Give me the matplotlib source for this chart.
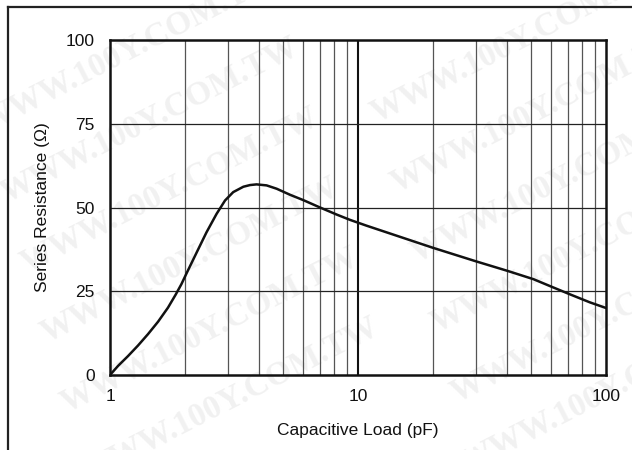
import matplotlib
matplotlib.use("Agg")
import matplotlib.pyplot as plt
from matplotlib.lines import Line2D
from matplotlib.ticker import NullLocator

# Data
cap_load = [1.0, 1.077, 1.182, 1.297, 1.423, 1.562, 1.713, 1.84, 1.94, 2.04,
            2.24, 2.45, 2.69, 2.91, 3.14, 3.45, 3.67, 3.90, 4.28, 4.70,
            5.32, 6.02, 7.03, 8.2, 9.29, 10.8, 20.0, 30.0, 40.0, 51.0,
            61.0, 72.0, 86.0, 100.0]
series_res = [0.0, 2.7, 5.65, 8.8, 12.2, 15.9, 20.1, 24.0, 27.1, 30.5,
              36.7, 42.6, 48.1, 52.1, 54.6, 56.2, 56.7, 56.9, 56.6, 55.6,
              53.8, 52.2, 50.0, 47.9, 46.3, 44.6, 38.0, 33.9, 31.1, 28.6,
              26.2, 24.0, 21.7, 20.0]
x_ticks = [1, 10, 100]
x_tick_labels = ["1", "10", "100"]
y_ticks = [0, 25, 50, 75, 100]
y_tick_labels = ["0", "25", "50", "75", "100"]
watermark = "WWW.100Y.COM.TW"

plt.rcParams['font.family'] = ['Liberation Sans', 'DejaVu Sans']

W, H = 632, 450
fig = plt.figure(figsize=(W / 100, H / 100), dpi=100)
fig.patch.set_facecolor("white")

# watermarks behind everything
wm_pos = [(130, 50), (520, 40), (150, 120), (540, 110), (170, 190), (560, 180),
          (190, 260), (580, 250), (210, 330), (600, 320), (230, 400), (610, 390)]
for (px, py) in wm_pos:
    fig.text(px / W, 1 - py / H, watermark, fontsize=24, fontweight='bold',
             family=['Liberation Serif', 'DejaVu Serif'], color='#f1f1f1',
             rotation=27, ha='center', va='center', zorder=-5)

# figure border (left and top)
fig.add_artist(Line2D([8 / W, 8 / W], [0, 1 - 7 / H], color='#222222', lw=1.6,
                      transform=fig.transFigure))
fig.add_artist(Line2D([8 / W, 1], [1 - 7 / H, 1 - 7 / H], color='#222222', lw=1.6,
                      transform=fig.transFigure))

ax = fig.add_axes([110 / W, 1 - 375 / H, (606 - 110) / W, (375 - 40) / H])
ax.patch.set_alpha(0)
ax.set_xscale('log')
ax.set_xlim(1, 100)
ax.set_ylim(0, 100)

# grid
minor = [m * d for d in (1, 10) for m in range(2, 10)]
for xv in minor:
    ax.axvline(xv, color='#555555', lw=0.9, zorder=1)
ax.axvline(10, color='#111111', lw=1.5, zorder=1)
for yv in (25, 50, 75):
    ax.axhline(yv, color='#222222', lw=0.9, zorder=1)

ax.plot(cap_load, series_res, color='#111111', lw=1.8, zorder=3,
        solid_capstyle='round', solid_joinstyle='round')

for s in ax.spines.values():
    s.set_linewidth(1.8)
    s.set_color('#111111')

ax.set_xticks(x_ticks)
ax.set_xticklabels(x_tick_labels)
ax.xaxis.set_minor_locator(NullLocator())
ax.set_yticks(y_ticks)
ax.set_yticklabels(y_tick_labels)
ax.tick_params(axis='both', length=0, labelsize=12.5, colors='#111111')
ax.tick_params(axis='y', pad=11)
ax.tick_params(axis='x', pad=10)

ax.set_xlabel("Capacitive Load (pF)", fontsize=12.5, color='#111111', va='center')
ax.xaxis.set_label_coords(0.5, (375 - 430) / 335)
ax.set_ylabel("Series Resistance (Ω)", fontsize=12.5, color='#111111', va='center')
ax.yaxis.set_label_coords((42 - 110) / 496, 0.5)

fig.savefig("out.png", dpi=100)
